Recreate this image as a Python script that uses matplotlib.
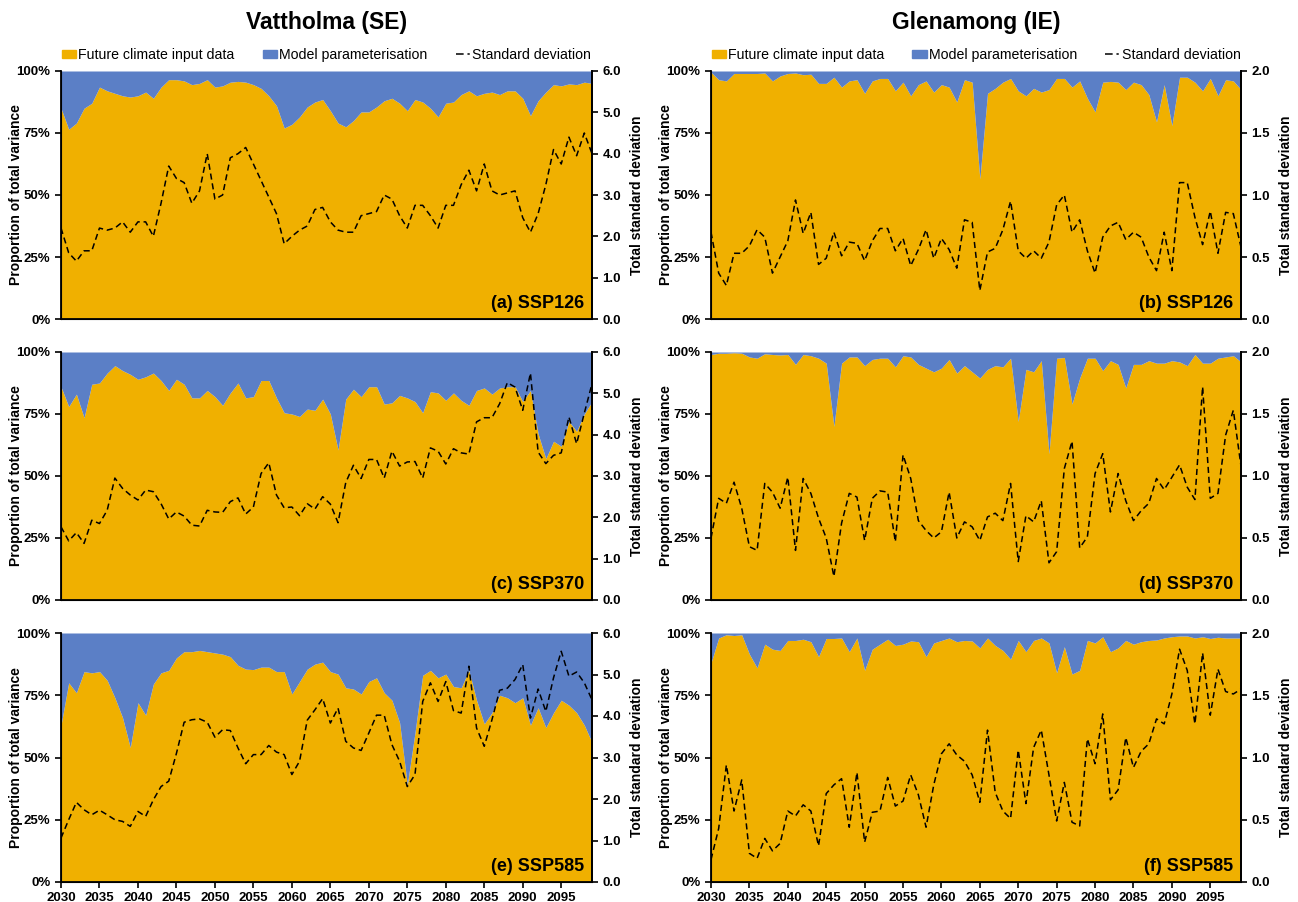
import matplotlib
matplotlib.use("Agg")
import matplotlib.pyplot as plt
from matplotlib.patches import Patch
from matplotlib.lines import Line2D
from matplotlib.ticker import FuncFormatter, MultipleLocator

plt.rcParams['font.family'] = ['Liberation Sans', 'DejaVu Sans']

years = list(range(2030, 2100))

# share of total variance from future climate input data (%), rest is model parameterisation
vat_126_share = [85, 76.5, 79, 85, 87, 93.5, 92, 91, 90, 89.5,
                 90, 91.5, 89, 93.5, 96.5, 96.5, 96, 94.5, 95, 96.5,
                 93.5, 94, 95.5, 95.8, 95.5, 94.5, 93, 90, 86, 77,
                 78.5, 81.5, 85.5, 87.5, 88.5, 84, 79, 77.5, 80, 83.5,
                 83.5, 85.5, 88, 89, 87, 84, 88.5, 87.5, 85, 81.5,
                 87, 87.5, 90.5, 92, 90, 91, 91.5, 90.5, 92, 92,
                 89, 82, 88, 91.5, 94.5, 94, 94.8, 94.5, 95.5, 95]
vat_126_sd = [2.2, 1.6, 1.4, 1.65, 1.65, 2.2, 2.15, 2.2, 2.35, 2.1,
              2.35, 2.35, 2.0, 2.8, 3.7, 3.4, 3.3, 2.8, 3.1, 4.0,
              2.9, 3.0, 3.9, 4.0, 4.15, 3.75, 3.35, 2.95, 2.55, 1.82,
              2.0, 2.15, 2.25, 2.65, 2.7, 2.35, 2.15, 2.1, 2.1, 2.5,
              2.55, 2.6, 3.0, 2.9, 2.5, 2.2, 2.75, 2.75, 2.5, 2.2,
              2.75, 2.75, 3.25, 3.6, 3.1, 3.75, 3.1, 3.0, 3.05, 3.1,
              2.45, 2.1, 2.55, 3.25, 4.1, 3.75, 4.4, 3.95, 4.5, 4.0]

gle_126_share = [99.5, 96.5, 96, 99, 99, 99, 99, 99.2, 96, 98,
                 99, 99.2, 98.5, 98.7, 95, 95, 97.5, 93.5, 96, 96.5,
                 91, 96, 97, 97, 92, 95.5, 90, 94.5, 96, 91.5,
                 94.5, 93.5, 87.5, 96.5, 95.5, 56.5, 91, 93, 95.5, 97,
                 92, 90, 93, 91.5, 92.5, 97, 97, 93.5, 96, 89,
                 83.5, 95.5, 95.8, 95.5, 92.5, 95.5, 94.5, 90.5, 79.5, 94.5,
                 78, 97.5, 97.5, 95.5, 92, 97, 90, 96.5, 96, 92.5]
gle_126_sd = [0.7, 0.37, 0.27, 0.53, 0.53, 0.59, 0.72, 0.66, 0.37, 0.5,
              0.63, 0.96, 0.69, 0.86, 0.44, 0.49, 0.7, 0.51, 0.62, 0.61,
              0.47, 0.63, 0.73, 0.73, 0.55, 0.65, 0.43, 0.56, 0.72, 0.49,
              0.65, 0.56, 0.41, 0.8, 0.78, 0.23, 0.54, 0.57, 0.72, 0.95,
              0.55, 0.49, 0.55, 0.49, 0.62, 0.92, 1.0, 0.7, 0.8, 0.55,
              0.37, 0.66, 0.75, 0.78, 0.64, 0.7, 0.66, 0.5, 0.39, 0.7,
              0.39, 1.1, 1.1, 0.82, 0.6, 0.87, 0.53, 0.86, 0.85, 0.58]

vat_370_share = [86, 78, 83, 73.5, 87, 87.5, 91.5, 94.5, 92.5, 91,
                 89, 90, 91.5, 88.5, 84.5, 89, 87, 81.5, 81.5, 84.5,
                 82, 78.5, 83.5, 87.5, 81.5, 82, 88.5, 88.5, 81.5, 75.5,
                 75, 74, 77, 76.5, 81, 75, 60.5, 81, 85, 82,
                 86, 86, 79, 79.5, 82.5, 81.5, 80, 75.5, 84, 83.5,
                 80.5, 83.5, 80.5, 78.5, 84.5, 85.5, 83, 85.5, 86, 86,
                 80, 84.5, 67, 57, 64, 62, 72, 68, 75, 80]
vat_370_sd = [1.77, 1.43, 1.63, 1.37, 1.93, 1.85, 2.17, 2.95, 2.7, 2.54,
              2.42, 2.66, 2.62, 2.33, 1.96, 2.13, 2.03, 1.81, 1.79, 2.17,
              2.13, 2.12, 2.38, 2.47, 2.08, 2.25, 3.06, 3.32, 2.54, 2.23,
              2.25, 2.04, 2.33, 2.2, 2.5, 2.32, 1.87, 2.84, 3.26, 2.94,
              3.4, 3.4, 2.95, 3.6, 3.24, 3.34, 3.35, 2.95, 3.68, 3.6,
              3.29, 3.66, 3.56, 3.53, 4.31, 4.41, 4.41, 4.75, 5.26, 5.15,
              4.59, 5.49, 3.58, 3.3, 3.5, 3.56, 4.43, 3.78, 4.52, 5.23]

gle_370_share = [99, 99.5, 99.5, 99.7, 99.5, 98, 97.5, 99.3, 99, 98.8,
                 99, 95, 99, 98.5, 97.5, 95.5, 70, 95.5, 98, 98,
                 94.5, 97, 97.5, 97.5, 94, 98.5, 98, 95, 93.5, 92,
                 93.5, 97, 91.5, 94.5, 92, 89.5, 93, 94.5, 94, 97.5,
                 72, 93, 92, 96.5, 59, 97.5, 97.8, 79, 89.5, 97.5,
                 97.5, 92.5, 96.5, 95, 85.5, 95, 95, 96.5, 95.5, 95.5,
                 96.5, 96, 94.5, 99, 95.5, 95.5, 97.5, 98, 98.5, 96]
gle_370_sd = [0.5, 0.82, 0.78, 0.95, 0.74, 0.43, 0.4, 0.94, 0.87, 0.74,
              0.99, 0.4, 0.98, 0.86, 0.66, 0.5, 0.19, 0.62, 0.86, 0.83,
              0.48, 0.82, 0.88, 0.87, 0.47, 1.17, 0.98, 0.64, 0.56, 0.5,
              0.55, 0.87, 0.5, 0.63, 0.59, 0.48, 0.67, 0.7, 0.64, 0.94,
              0.31, 0.68, 0.63, 0.8, 0.3, 0.39, 1.06, 1.28, 0.42, 0.51,
              1.02, 1.18, 0.71, 1.02, 0.8, 0.64, 0.72, 0.78, 0.98, 0.89,
              0.99, 1.09, 0.91, 0.81, 1.72, 0.82, 0.86, 1.33, 1.53, 1.08]

vat_585_share = [63, 80, 76, 84.5, 84, 84.5, 81, 74, 66, 54,
                 72, 67, 79.5, 84, 85, 90, 92.5, 92.5, 93, 92.5,
                 92, 91.5, 90.5, 87, 85.5, 85.3, 86.3, 86.3, 84.5, 84.5,
                 75.5, 80.5, 85.5, 87.5, 88.3, 84.5, 83.5, 78, 77.5, 75.5,
                 80.5, 82, 76, 73, 64, 39, 60, 83, 85, 82,
                 83.5, 78.5, 78, 85, 73, 63.5, 68, 75, 74, 72,
                 74, 63, 70, 62, 68, 73, 71, 68, 63, 56]
vat_585_sd = [1.06, 1.5, 1.92, 1.74, 1.62, 1.73, 1.62, 1.5, 1.46, 1.34,
              1.7, 1.58, 1.98, 2.3, 2.43, 3.1, 3.85, 3.91, 3.93, 3.85,
              3.49, 3.67, 3.65, 3.23, 2.85, 3.07, 3.07, 3.29, 3.13, 3.07,
              2.59, 2.91, 3.9, 4.15, 4.42, 3.83, 4.19, 3.39, 3.23, 3.17,
              3.59, 4.02, 4.02, 3.31, 2.91, 2.3, 2.59, 4.35, 4.8, 4.35,
              4.83, 4.13, 4.07, 5.2, 3.71, 3.27, 3.91, 4.62, 4.67, 4.88,
              5.24, 3.95, 4.65, 4.11, 4.92, 5.56, 4.96, 5.06, 4.8, 4.39]

gle_585_share = [88, 98, 99.3, 99, 99.3, 91.5, 86, 95.5, 93.5, 93,
                 97, 97, 97.5, 96.5, 90.5, 97.8, 97.8, 98, 92.5, 98,
                 85, 93.5, 95.5, 97.5, 95, 95.5, 96.8, 96.5, 90.5, 96,
                 97, 98, 96.5, 97, 96.8, 94, 98, 95, 93, 89.5,
                 97, 92.5, 97, 98, 96, 84, 94.5, 83.5, 85, 97,
                 96, 98.5, 92.5, 94, 97, 95.5, 96.5, 97, 97.2, 98,
                 98.5, 98.8, 98.8, 98, 98.5, 97.8, 98.3, 98, 98, 98]
gle_585_sd = [0.18, 0.43, 0.94, 0.57, 0.82, 0.23, 0.19, 0.35, 0.25, 0.31,
              0.57, 0.53, 0.62, 0.57, 0.29, 0.71, 0.78, 0.83, 0.44, 0.88,
              0.32, 0.56, 0.57, 0.84, 0.61, 0.65, 0.86, 0.7, 0.44, 0.78,
              1.03, 1.11, 1.02, 0.97, 0.86, 0.64, 1.22, 0.72, 0.57, 0.51,
              1.06, 0.63, 1.08, 1.22, 0.86, 0.49, 0.8, 0.48, 0.45, 1.15,
              0.95, 1.35, 0.66, 0.74, 1.16, 0.92, 1.05, 1.11, 1.31, 1.27,
              1.51, 1.87, 1.7, 1.27, 1.84, 1.34, 1.71, 1.53, 1.51, 1.55]

sites = ['Vattholma (SE)', 'Glenamong (IE)']
panel_labels = ['(a) SSP126', '(b) SSP126', '(c) SSP370',
                '(d) SSP370', '(e) SSP585', '(f) SSP585']
shares = [vat_126_share, gle_126_share, vat_370_share,
          gle_370_share, vat_585_share, gle_585_share]
sds = [vat_126_sd, gle_126_sd, vat_370_sd, gle_370_sd, vat_585_sd, gle_585_sd]
sd_max = [6.0, 2.0]
sd_step = [1.0, 0.5]

YELLOW = '#F0B000'
BLUE = '#5B7FC6'
DASH = (0, (4, 2.5))

W, H = 1298, 902
fig = plt.figure(figsize=(W / 100, H / 100), dpi=100)

# axes boxes in pixels: (left, right) per column, (top, bottom) per row
cols = [(61, 592), (711, 1241)]
rows = [(71, 319), (352, 600), (633, 882)]

for i in range(6):
    r, c = divmod(i, 2)
    l, rr = cols[c]
    t, b = rows[r]
    wpx = rr - l
    ax = fig.add_axes([l / W, 1 - b / H, wpx / W, (b - t) / H])
    share = shares[i]
    ax.fill_between(years, 0, share, color=YELLOW, lw=0, zorder=1)
    ax.fill_between(years, share, 100, color=BLUE, lw=0, zorder=1)
    ax.set_xlim(2030, 2099)
    ax.set_ylim(0, 100)
    ax.yaxis.set_major_locator(MultipleLocator(25))
    ax.yaxis.set_major_formatter(FuncFormatter(lambda v, p: f'{int(v)}%'))
    ax.set_ylabel('Proportion of total variance', fontsize=10,
                  fontweight='bold')
    ax.yaxis.set_label_coords(-38 / wpx, 0.5)
    ax.xaxis.set_major_locator(MultipleLocator(5))
    ax.tick_params(axis='both', labelsize=9.5, width=1.2, length=4,
                   direction='out')
    if r < 2:
        ax.tick_params(axis='x', bottom=False, labelbottom=False)
    for lab in ax.get_xticklabels() + ax.get_yticklabels():
        lab.set_fontweight('bold')
    ax.spines['top'].set_visible(False)
    for s in ['left', 'bottom', 'right']:
        ax.spines[s].set_linewidth(1.3)

    ax2 = ax.twinx()
    ax2.plot(years, sds[i], color='black', lw=1.1, ls=DASH, zorder=3)
    ax2.set_ylim(0, sd_max[c])
    ax2.yaxis.set_major_locator(MultipleLocator(sd_step[c]))
    ax2.yaxis.set_major_formatter(FuncFormatter(lambda v, p: f'{v:.1f}'))
    ax2.set_ylabel('Total standard deviation', fontsize=10,
                   fontweight='bold')
    ax2.yaxis.set_label_coords(1 + 38 / wpx, 0.5)
    ax2.tick_params(axis='y', labelsize=9.5, width=1.2, length=4, direction='out')
    for lab in ax2.get_yticklabels():
        lab.set_fontweight('bold')
    ax2.spines['top'].set_visible(False)
    ax2.spines['right'].set_linewidth(1.3)

    ax.text(0.985, 0.03, panel_labels[i], transform=ax.transAxes, ha='right',
            va='bottom', fontsize=13, fontweight='bold', zorder=5)

    if r == 0:
        fig.text((l + rr) / 2 / W, 1 - 23 / H, sites[c], ha='center',
                 va='center', fontsize=16.5, fontweight='bold')
        handles = [Patch(color=YELLOW), Patch(color=BLUE),
                   Line2D([0], [0], color='black', lw=1.1,
                          ls=(0, (5, 2.5, 1.5, 2.5)))]
        ax.legend(handles, ['Future climate input data', 'Model parameterisation',
                            'Standard deviation'],
                  loc='lower center', bbox_to_anchor=(0.5, 1.0), ncol=3,
                  frameon=False, fontsize=10.2, handlelength=1.0,
                  handleheight=0.55, handletextpad=0.15, columnspacing=2.0,
                  borderaxespad=0.25)

fig.savefig('out.png', dpi=100)
